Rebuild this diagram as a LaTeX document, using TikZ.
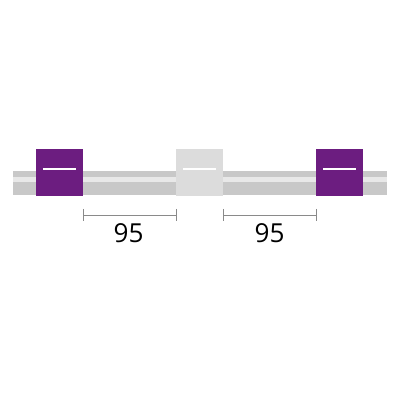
\documentclass[tikz,border=0pt]{standalone}
\usepackage{fontspec}
\setmainfont{Open Sans}
\definecolor{tagpurple}{HTML}{6C1D80}
\definecolor{taggrey}{HTML}{DCDCDC}
\definecolor{tubedark}{HTML}{C8C8C8}
\definecolor{tubelight}{HTML}{E8E8E8}
\definecolor{dimgrey}{HTML}{8A8A8A}

\begin{document}
\begin{tikzpicture}[x=0.025cm,y=-0.025cm,thick,
    tag node/.style={rectangle,minimum width=1.167cm,minimum height=1.167cm,inner sep=0pt},
    dim line/.style={draw=dimgrey,line width=0.6pt},
    dim label/.style={font=\fontsize{18.6}{22}\selectfont,text=black}]

            \useasboundingbox (0,0) rectangle (400,400);

            % tube
            \fill[tubedark] (13,170.7) rectangle (387,195);
            \fill[tubelight] (13,176.7) rectangle (387,182.3);

            \node[tag node, fill=tagpurple] (1) at (59.3,172.3) {};
            \node[tag node, fill=taggrey] (2) at (199.3,172.3) {};
            \node[tag node, fill=tagpurple] (3) at (339.7,172.3) {};

            \foreach \n in {1,2,3}
                \draw[white,line width=1.4pt] ([xshift=-0.41cm,yshift=0.09cm]\n.center) -- ([xshift=0.41cm,yshift=0.09cm]\n.center);

            % dimensions
            \coordinate (a) at (83,215);
            \coordinate (b) at (176.5,215);
            \coordinate (c) at (223,215);
            \coordinate (d) at (316.5,215);
            \draw[dim line] (a) -- (b);
            \draw[dim line] (c) -- (d);
            \foreach \p in {a,b,c,d}
                \draw[dim line] ([yshift=0.15cm]\p) -- ([yshift=-0.16cm]\p);

            \node[dim label] (l1) at (128.5,233.4) {95};
            \node[dim label] (l2) at (269.5,233.4) {95};
            % \draw[-] (l1) to (l2);

            ;
        \end{tikzpicture}
\end{document}
